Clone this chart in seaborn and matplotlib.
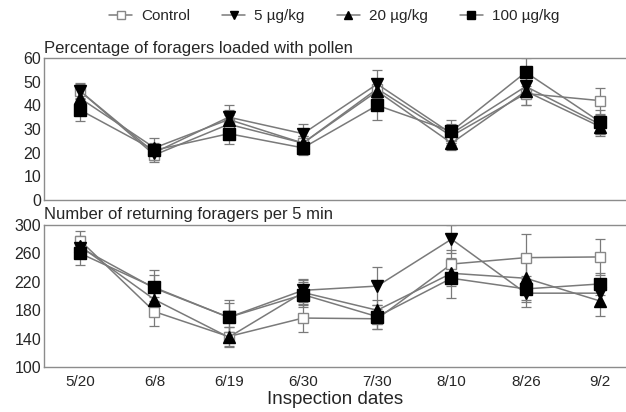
import matplotlib
matplotlib.use("Agg")
import matplotlib.pyplot as plt
import seaborn as sns
import numpy as np
import pandas as pd
from matplotlib.lines import Line2D

sns.set_style("white")
plt.rcParams['font.family'] = ['Liberation Sans', 'DejaVu Sans']

dates = ["5/20", "6/8", "6/19", "6/30", "7/30", "8/10", "8/26", "9/2"]
groups = ["Control", "5 µg/kg", "20 µg/kg", "100 µg/kg"]

pollen_control = [46, 19, 32, 24, 47, 27, 45, 42]
pollen_5 = [46, 20, 35, 28, 49, 28, 48, 32]
pollen_20 = [43, 22, 34, 24, 46, 24, 46, 31]
pollen_100 = [38, 21, 28, 22, 40, 29, 54, 33]
pollen_err_control = [3.5, 3, 4, 3, 4, 4, 5, 5.5]
pollen_err_5 = [3, 3, 5, 4, 6, 4, 5, 4]
pollen_err_20 = [3.5, 4, 4, 3, 5, 3, 6, 4]
pollen_err_100 = [4.5, 3, 4.5, 3, 6, 5, 6, 5]

ret_control = [278, 178, 143, 169, 168, 245, 254, 255]
ret_5 = [268, 211, 170, 208, 214, 280, 204, 204]
ret_20 = [270, 195, 142, 205, 180, 232, 225, 193]
ret_100 = [260, 212, 170, 202, 171, 225, 210, 217]
ret_err_control = [14, 20, 14, 20, 14, 20, 33, 25]
ret_err_5 = [14, 18, 20, 16, 27, 20, 20, 18]
ret_err_20 = [14, 20, 14, 18, 14, 18, 30, 21]
ret_err_100 = [16, 25, 24, 18, 17, 28, 18, 16]

pollen = [pollen_control, pollen_5, pollen_20, pollen_100]
pollen_err = [pollen_err_control, pollen_err_5, pollen_err_20, pollen_err_100]
ret = [ret_control, ret_5, ret_20, ret_100]
ret_err = [ret_err_control, ret_err_5, ret_err_20, ret_err_100]

markers = ["s", "v", "^", "s"]
faces = ["white", "black", "black", "black"]
edges = ["#888888", "black", "black", "black"]
msizes = [7.5, 8, 8, 8]
line_col = "#7a7a7a"
spine_col = "#8c8c8c"

fig = plt.figure(figsize=(6.26, 4.12), dpi=100)
ax1 = fig.add_axes([0.070, 0.515, 0.930, 0.344])
ax2 = fig.add_axes([0.070, 0.109, 0.930, 0.345])

x = np.arange(len(dates))

def draw(ax, vals, errs):
    for i, g in enumerate(groups):
        df = pd.DataFrame({"x": x, "y": vals[i]})
        ax.errorbar(x, vals[i], yerr=errs[i], fmt="none", ecolor=line_col,
                    elinewidth=0.9, capsize=3.5, capthick=0.9, zorder=2)
        sns.lineplot(data=df, x="x", y="y", ax=ax, color=line_col, lw=1.1,
                     marker=markers[i], markersize=msizes[i],
                     markerfacecolor=faces[i], markeredgecolor=edges[i],
                     markeredgewidth=1.0, zorder=3 + i)
    ax.set_xlim(-0.49, 7.35)
    for s in ["left", "bottom", "top"]:
        ax.spines[s].set_color(spine_col)
        ax.spines[s].set_linewidth(1.0)
    ax.spines["right"].set_visible(False)
    ax.set_xticks(x)
    ax.tick_params(axis="x", direction="in", length=5, color=spine_col, width=1)
    ax.tick_params(axis="y", length=0, labelsize=11.5, pad=2)
    ax.set_xlabel("")
    ax.set_ylabel("")

draw(ax1, pollen, pollen_err)
ax1.set_ylim(0, 60)
ax1.set_yticks(np.arange(0, 61, 10))
ax1.set_xticklabels([])
ax1.set_title("Percentage of foragers loaded with pollen", loc="left",
              fontsize=12, pad=4, x=0.0)

draw(ax2, ret, ret_err)
ax2.set_ylim(100, 300)
ax2.set_yticks(np.arange(100, 301, 40))
ax2.set_xticklabels(dates, fontsize=11)
ax2.tick_params(axis="x", pad=6)
ax2.set_title("Number of returning foragers per 5 min", loc="left",
              fontsize=12, pad=4, x=0.0)
ax2.set_xlabel("Inspection dates", fontsize=13.5, labelpad=1)

handles = [Line2D([0], [0], color=line_col, lw=1.1, marker=markers[i],
                  markersize=msizes[i] - 2, markerfacecolor=faces[i],
                  markeredgecolor=edges[i]) for i in range(4)]
fig.legend(handles, groups, loc="center", bbox_to_anchor=(0.534, 0.96),
           ncol=4, frameon=False, fontsize=11, handlelength=1.5,
           columnspacing=2.1, handletextpad=0.6)

fig.savefig("out.png", dpi=100)
